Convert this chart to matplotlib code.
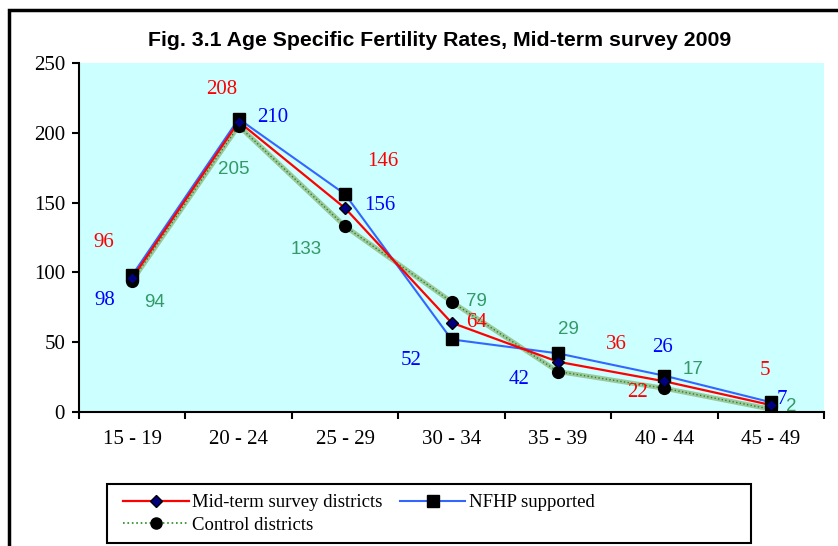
import matplotlib
matplotlib.use('Agg')
import matplotlib.pyplot as plt
from matplotlib.patches import Rectangle
from matplotlib.lines import Line2D

# data
ages = ['15 - 19', '20 - 24', '25 - 29', '30 - 34', '35 - 39', '40 - 44', '45 - 49']
midterm = [96, 208, 146, 64, 36, 22, 5]
nfhp = [98, 210, 156, 52, 42, 26, 7]
control = [94, 205, 133, 79, 29, 17, 2]

# label offsets in pixels (dx, dy) from each point
off_mid = [(-28, 35), (-17, 32), (38, 47), (25, 0), (58, 17), (-27, -11), (-6, 35)]
off_nfhp = [(-27, -25), (34, 1), (35, -11), (-40, -21), (-39, -26), (-2, 28), (11, 3)]
off_ctrl = [(22, -22), (-5, -44), (-39, -23), (25, 0), (11, 42), (29, 19), (20, 3)]

serif = 'Liberation Serif'
sans = 'Liberation Sans'

fig = plt.figure(figsize=(8.38, 5.46), dpi=100)
ax = fig.add_axes([79/838, 1 - 412/546, 745/838, 349/546])
ax.set_facecolor('#CCFFFF')

x = list(range(len(ages)))

# control districts: broad pale band with dotted green on top
ax.plot(x, control, color='#9DC89D', lw=3.5, zorder=2, solid_capstyle='round')
ax.plot(x, control, color='#228B22', lw=1, ls=':', zorder=2.1)
ax.plot(x, control, ls='none', marker='o', ms=8.5, mfc='black', mec='black', zorder=5)

ax.plot(x, nfhp, color='#3366FF', lw=1.5, zorder=3)
ax.plot(x, nfhp, ls='none', marker='s', ms=8.5, mfc='black', mec='black', zorder=5)

ax.plot(x, midterm, color='#FF0000', lw=1.6, zorder=4)
ax.plot(x, midterm, ls='none', marker='D', ms=6.5, mfc='#000080', mec='black', zorder=6)

for vals, offs, col, fam in [(midterm, off_mid, '#FF0000', serif),
                             (nfhp, off_nfhp, '#0000FF', serif),
                             (control, off_ctrl, '#339966', sans)]:
    for i, v in enumerate(vals):
        ax.annotate(str(v), (i, v), xytext=offs[i], textcoords='offset pixels',
                    ha='center', va='center', color=col, family=fam,
                    fontsize=15 if fam == serif else 13.5, zorder=7)

ax.set_xlim(-0.5, len(ages) - 0.5)
ax.set_ylim(0, 250)
ax.set_yticks(range(0, 251, 50))
ax.set_xticks([i - 0.5 for i in range(len(ages) + 1)])
ax.set_xticklabels([])
ax.set_xticks(x, minor=True)
ax.set_xticklabels(ages, minor=True, family=serif, fontsize=15)
ax.tick_params(axis='x', which='minor', length=0, pad=13)
ax.tick_params(axis='x', which='major', length=5, width=1.5, direction='out')
ax.tick_params(axis='y', length=5, width=1.5, direction='out', pad=5)
for lab in ax.get_yticklabels():
    lab.set_family(serif)
    lab.set_fontsize(15)
for s in ['top', 'right']:
    ax.spines[s].set_visible(False)
for s in ['left', 'bottom']:
    ax.spines[s].set_linewidth(1.5)

fig.text(440/838, 1 - 40/546, 'Fig. 3.1 Age Specific Fertility Rates, Mid-term survey 2009',
         ha='center', va='center', family=sans, fontweight='bold', fontsize=15.3)

# outer chart frame (right and bottom run off the image)
fig.patches.append(Rectangle((9/838, -0.05), 1.1, 1 - 10/546 + 0.05, transform=fig.transFigure,
                             fill=False, ec='black', lw=2.5))

# legend box
fig.patches.append(Rectangle((107/838, 1 - 543/546), 644/838, 59/546, transform=fig.transFigure,
                             fill=False, ec='black', lw=1.5))
handles = [
    Line2D([], [], color='#FF0000', lw=1.6, marker='D', ms=6, mfc='#000080', mec='black'),
    Line2D([], [], color='#228B22', lw=1.2, ls=':', marker='o', ms=8, mfc='black', mec='black'),
    Line2D([], [], color='#3366FF', lw=1.5, marker='s', ms=8, mfc='black', mec='black'),
]
fig.legend(handles, ['Mid-term survey districts', 'Control districts', 'NFHP supported'],
           ncol=2, loc='upper left', bbox_to_anchor=(110/838, 1 - 481/546), frameon=False,
           prop={'family': serif, 'size': 13.5}, handlelength=3.5, handletextpad=0.2,
           columnspacing=0.9, labelspacing=0.3, borderpad=0.2)

fig.savefig('out.png', dpi=100)
